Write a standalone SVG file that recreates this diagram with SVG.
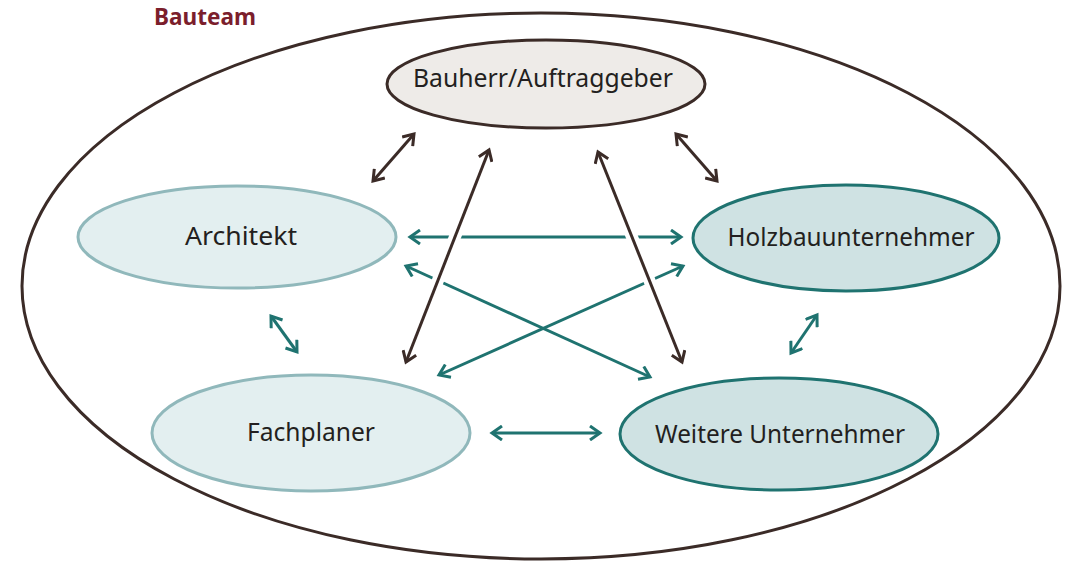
<svg xmlns="http://www.w3.org/2000/svg" width="1078" height="565" viewBox="0 0 1078 565">
<style>
.lbl{font-family:"Noto Sans","Open Sans",sans-serif;font-size:25px;fill:#231f20;text-anchor:middle}
.title{font-family:"Noto Sans","Open Sans",sans-serif;font-size:23.5px;font-weight:bold;fill:#7b1e2c}
.teal{stroke:#1f7370;stroke-width:3;fill:none;marker-start:url(#ht);marker-end:url(#ht)}
.brown{stroke:#3b2b27;stroke-width:3;fill:none;marker-start:url(#hb);marker-end:url(#hb)}
.halo{stroke:#fff;stroke-width:12;fill:none}
.light{fill:#e3eff0;stroke:#90b8bb;stroke-width:3}
.dark{fill:#cfe2e3;stroke:#1f7370;stroke-width:3}
</style>
<defs>
<marker id="ht" viewBox="0 0 16 16" refX="13" refY="8" markerWidth="16" markerHeight="16" markerUnits="userSpaceOnUse" orient="auto-start-reverse">
<path d="M3,1 L13,8 L3,15" fill="none" stroke="#1f7370" stroke-width="3"/>
</marker>
<marker id="hb" viewBox="0 0 16 16" refX="13" refY="8" markerWidth="16" markerHeight="16" markerUnits="userSpaceOnUse" orient="auto-start-reverse">
<path d="M3,1 L13,8 L3,15" fill="none" stroke="#3b2b27" stroke-width="3"/>
</marker>
</defs>
<rect width="1078" height="565" fill="#fff"/>
<g id="bauteam">
<ellipse cx="541" cy="286" rx="519" ry="273" fill="none" stroke="#3b2b27" stroke-width="3"/>
<text class="title" x="154" y="25" textLength="102" lengthAdjust="spacingAndGlyphs">Bauteam</text>
</g>
<g id="connectors">
<line class="teal" x1="410" y1="237" x2="681" y2="237"/>
<line class="teal" x1="406" y1="266" x2="650" y2="377"/>
<line class="teal" x1="439" y1="375" x2="683" y2="266"/>
<line class="teal" x1="271" y1="316" x2="297" y2="352"/>
<line class="teal" x1="492" y1="433" x2="600" y2="433"/>
<line class="teal" x1="817" y1="315" x2="791" y2="353"/>
<line class="halo" x1="410" y1="352" x2="485" y2="160"/>
<line class="halo" x1="602" y1="162" x2="678" y2="352"/>
<line class="brown" x1="406" y1="362" x2="489" y2="150"/>
<line class="brown" x1="598" y1="152" x2="682" y2="362"/>
<line class="brown" x1="373" y1="181" x2="414" y2="134"/>
<line class="brown" x1="676" y1="134" x2="717" y2="181"/>
</g>
<g id="bauherr">
<ellipse cx="546" cy="84" rx="159" ry="44" fill="#eeebe8" stroke="#3b2b27" stroke-width="3"/>
<text class="lbl" x="543" y="87" textLength="260" lengthAdjust="spacingAndGlyphs">Bauherr/Auftraggeber</text>
</g>
<g id="architekt">
<ellipse class="light" cx="237" cy="237" rx="159" ry="51"/>
<text class="lbl" x="241" y="245" textLength="112" lengthAdjust="spacingAndGlyphs">Architekt</text>
</g>
<g id="holzbau">
<ellipse class="dark" cx="846" cy="238" rx="153" ry="53"/>
<text class="lbl" x="851" y="246" textLength="247" lengthAdjust="spacingAndGlyphs">Holzbauunternehmer</text>
</g>
<g id="fachplaner">
<ellipse class="light" cx="311" cy="433" rx="159" ry="58"/>
<text class="lbl" x="311" y="441" textLength="128" lengthAdjust="spacingAndGlyphs">Fachplaner</text>
</g>
<g id="weitere">
<ellipse class="dark" cx="779" cy="434" rx="159" ry="56"/>
<text class="lbl" x="780" y="443" textLength="250" lengthAdjust="spacingAndGlyphs">Weitere Unternehmer</text>
</g>
</svg>
